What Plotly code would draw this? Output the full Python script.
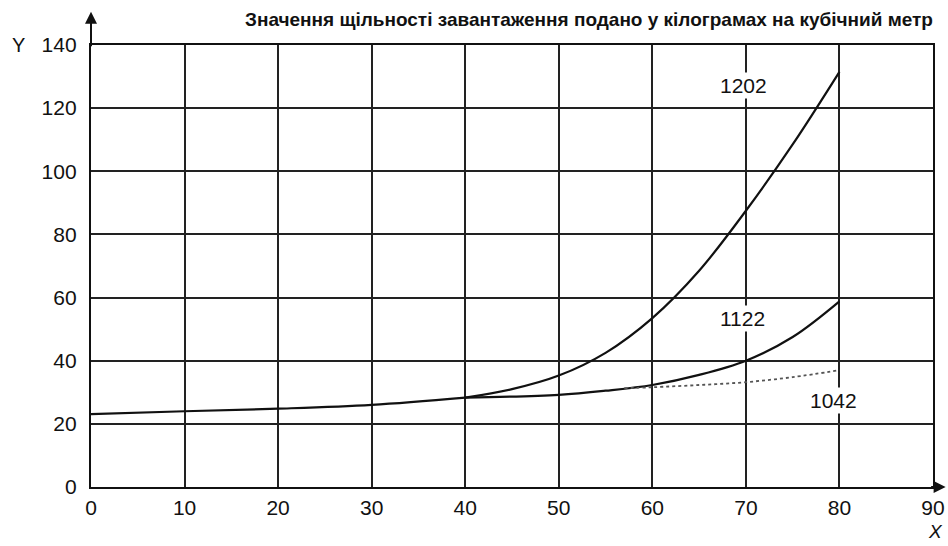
import plotly.graph_objects as go

# shared lower part of curves
x_common = [0, 10, 20, 30, 40]
y_common = [23.1, 24.0, 24.8, 26.0, 28.3]

x_1202 = [40, 45, 50, 55, 60, 65, 70, 75, 80]
y_1202 = [28.3, 31.0, 35.3, 42.5, 53.5, 68.5, 87.5, 108.5, 131.5]

x_1122 = [40, 50, 55, 60, 65, 70, 75, 80]
y_1122 = [28.3, 29.2, 30.5, 32.3, 35.5, 40.0, 47.5, 58.8]

x_1042 = [57, 60, 65, 70, 75, 80]
y_1042 = [31.3, 31.6, 32.3, 33.2, 34.8, 37.0]

labels = ["1202", "1122", "1042"]
label_x = [69.7, 69.6, 79.4]
label_y = [127.3, 53.5, 27.5]

x_ticks = list(range(0, 91, 10))
y_ticks = list(range(0, 141, 20))

title_text = "Значення щільності завантаження подано у кілограмах на кубічний метр"

fig = go.Figure()
line_style = dict(color="#111111", width=2.2)
fig.add_trace(go.Scatter(x=x_common, y=y_common, mode="lines", line=dict(shape="spline", **line_style), hoverinfo="skip"))
fig.add_trace(go.Scatter(x=x_1202, y=y_1202, mode="lines", line=dict(shape="spline", **line_style), hoverinfo="skip"))
fig.add_trace(go.Scatter(x=x_1122, y=y_1122, mode="lines", line=dict(shape="spline", **line_style), hoverinfo="skip"))
fig.add_trace(go.Scatter(x=x_1042, y=y_1042, mode="lines",
                         line=dict(shape="spline", color="#555555", width=1.8, dash="dot"), hoverinfo="skip"))

for t, lx, ly in zip(labels, label_x, label_y):
    fig.add_annotation(x=lx, y=ly, text=t, showarrow=False, bgcolor="white",
                       font=dict(family="Liberation Sans", size=21, color="#111111"))

fig.add_annotation(x=1.0, y=1.0, xref="paper", yref="paper", yshift=26, xshift=2,
                   xanchor="right", yanchor="middle", text="<b>" + title_text + "</b>", showarrow=False,
                   font=dict(family="Liberation Sans", size=19, color="#111111"))

fig.add_annotation(x=0, y=1.0, xref="paper", yref="paper", xshift=-73, xanchor="center", yanchor="middle",
                   text="Y", showarrow=False, font=dict(family="Liberation Sans", size=20, color="#111111"))
fig.add_annotation(x=1.0, y=0, xref="paper", yref="paper", yshift=-44, xshift=2, xanchor="center", yanchor="middle",
                   text="<i>X</i>", showarrow=False, font=dict(family="Liberation Sans", size=19, color="#111111"))

# axis arrows
fig.add_annotation(x=0, y=1.075, xref="paper", yref="paper", ax=0, ay=36, text="", showarrow=True,
                   arrowhead=2, arrowsize=1.2, arrowwidth=2, arrowcolor="#111111")
fig.add_annotation(x=1.015, y=0, xref="paper", yref="paper", ax=-16, ay=0, text="", showarrow=True,
                   arrowhead=2, arrowsize=1.2, arrowwidth=2, arrowcolor="#111111")

axis_common = dict(showgrid=True, gridcolor="#222222", gridwidth=1.8, showline=True, linecolor="#111111",
                   linewidth=2.4, mirror=True, zeroline=False, ticks="", automargin=False,
                   tickfont=dict(family="Liberation Sans", size=21, color="#111111"))
fig.update_xaxes(range=[0, 90], tickvals=x_ticks, ticktext=[str(v) for v in x_ticks],
                 ticklabelstandoff=1, **axis_common)
fig.update_yaxes(range=[0, 140], tickvals=y_ticks, ticktext=[str(v) for v in y_ticks],
                 ticklabelstandoff=8, **axis_common)

fig.update_layout(width=948, height=546, margin=dict(l=91, r=15, t=45, b=59),
                  plot_bgcolor="white", paper_bgcolor="white", showlegend=False)

# remove the default page margin so the 948x546 figure fills the window exactly
fig.write_html("out.html", config={"displayModeBar": False},
               post_script="document.body.style.margin='0';document.body.style.overflow='hidden';")
